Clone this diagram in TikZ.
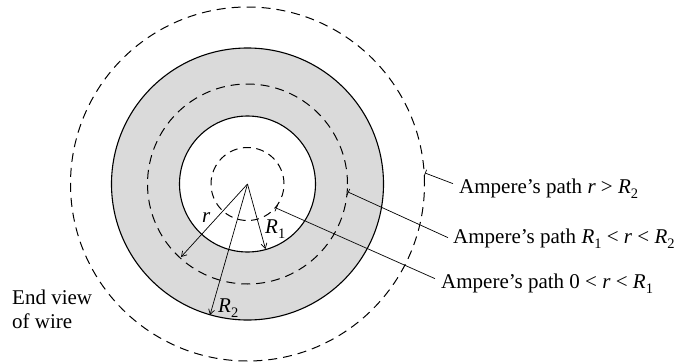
\documentclass[tikz,border=0pt]{standalone}
\usepackage{fontspec}
\setmainfont{Liberation Serif}
\usetikzlibrary{arrows.meta}
\definecolor{ringgray}{RGB}{218,218,218}
\newcommand\Rsb[1]{\textit{R}\raisebox{-0.28em}{\fontsize{14.5}{15}\selectfont #1}}
\begin{document}
\begin{tikzpicture}[x=1pt,y=-1pt,
  lbl/.style={font=\fontsize{21}{24}\selectfont, inner sep=0pt},
  solidc/.style={draw=black, line width=1.1pt},
  dashc/.style={draw=black, line width=1pt, dash pattern=on 9pt off 6pt},
  radarrow/.style={draw=black, line width=0.7pt, -{Straight Barb[length=5pt,width=6pt,line width=0.7pt]}},
  leader/.style={draw=black, line width=0.7pt, {Bar[width=7pt,line width=0.7pt]}-}]
\useasboundingbox (0,0) rectangle (680,364);
\coordinate (O) at (247.5,184);
% conductor ring
\fill[ringgray, even odd rule] (O) circle[radius=136pt] (O) circle[radius=68pt];
\draw[solidc] (O) circle[radius=136pt];
\draw[solidc] (O) circle[radius=68pt];
% Ampere paths
\draw[dashc] (O) circle[radius=177pt];
\draw[dashc] (O) circle[radius=100pt];
\draw[dashc, dash pattern=on 8pt off 5.5pt] (O) circle[radius=36.5pt];
% radius arrows
\coordinate (ar) at (181,257);
\coordinate (aR1) at (265.5,249);
\coordinate (aR2) at (210,315);
\draw[radarrow] (O) -- (ar);
\draw[radarrow] (O) -- (aR1);
\draw[radarrow] (O) -- (aR2);
\node[lbl, anchor=base west] (lr) at (202,222) {\textit{r}};
\node[lbl, anchor=base west] (lR1) at (265,233) {\Rsb{1}};
\node[lbl, anchor=base west] (lR2) at (218,312) {\Rsb{2}};
% path labels
\node[lbl, anchor=base west] (t1) at (459,193) {Ampere's path \textit{r} > \Rsb{2}};
\node[lbl, anchor=base west] (t2) at (453,243) {Ampere's path \Rsb{1} < \textit{r} < \Rsb{2}};
\node[lbl, anchor=base west] (t3) at (441,288) {Ampere's path 0 < \textit{r} < \Rsb{1}};
\coordinate (p1) at (425,173);
\coordinate (p2) at (348,192);
\coordinate (p3) at (276,208);
\draw[leader] (p1) -- ([shift={(-6,-5)}]t1.west);
\draw[leader] (p2) -- ([shift={(-5,-1)}]t2.west);
\draw[leader] (p3) -- ([shift={(-6,-5)}]t3.west);
% end view label
\node[lbl, anchor=north west, align=left] (ev) at (12,289.5) {End view\\of wire};
\end{tikzpicture}
\end{document}
